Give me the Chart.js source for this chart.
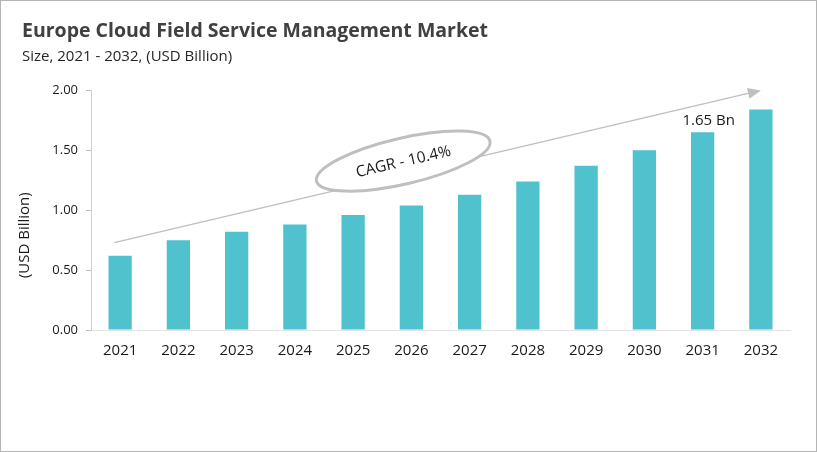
<!DOCTYPE html>
<html>
<head>
<meta charset="utf-8">
<script src="https://cdn.jsdelivr.net/npm/chart.js@4/dist/chart.umd.min.js"></script>
<style>
  html, body { margin: 0; padding: 0; background: #fff; }
  #wrap { position: relative; width: 817px; height: 452px; box-sizing: border-box; border: 1px solid #b4b4b4; }
  canvas { display: block; }
</style>
</head>
<body>
<div id="wrap"><canvas id="c" width="815" height="450"></canvas></div>
<script>
const categories = ["2021","2022","2023","2024","2025","2026","2027","2028","2029","2030","2031","2032"];
const marketSize = [0.62, 0.75, 0.82, 0.88, 0.96, 1.04, 1.13, 1.24, 1.37, 1.50, 1.65, 1.84];
const yTicks = [0, 0.5, 1.0, 1.5, 2.0];
const titleText = "Europe Cloud Field Service Management Market";
const subtitleText = "Size, 2021 - 2032, (USD Billion)";
const yAxisTitle = "(USD Billion)";
const cagrText = "CAGR - 10.4%";
const calloutIndex = 10;
const calloutText = "1.65 Bn";
// arrow anchors in data space: [category index, value]
const arrowStart = [-0.1, 0.73];
const arrowEnd = [11.0, 2.0];
const ellipseCenter = [4.86, 1.41];

const FONT = "'Open Sans', 'Noto Sans', sans-serif";

const decor = {
  id: 'decor',
  afterDatasetsDraw(chart) {
    const ctx = chart.ctx;
    const xs = chart.scales.x, ys = chart.scales.y;
    const px = i => xs.getPixelForValue(i);
    const py = v => ys.getPixelForValue(v);
    // y axis title
    ctx.save();
    ctx.translate(24, (chart.chartArea.top + chart.chartArea.bottom) / 2 + 25);
    ctx.rotate(-Math.PI / 2);
    ctx.fillStyle = '#1a1a1a';
    ctx.font = "15px " + FONT;
    ctx.textAlign = 'center';
    ctx.textBaseline = 'middle';
    ctx.fillText(yAxisTitle, 0, 0);
    ctx.restore();
    // arrow
    const x1 = px(arrowStart[0]), y1 = py(arrowStart[1]);
    const x2 = px(arrowEnd[0]), y2 = py(arrowEnd[1]);
    const ang = Math.atan2(y2 - y1, x2 - x1);
    ctx.save();
    ctx.strokeStyle = '#bfbfbf';
    ctx.fillStyle = '#bfbfbf';
    ctx.lineWidth = 1.3;
    ctx.beginPath();
    ctx.moveTo(x1, y1);
    ctx.lineTo(x2 - 10 * Math.cos(ang), y2 - 10 * Math.sin(ang));
    ctx.stroke();
    ctx.beginPath();
    ctx.translate(x2, y2);
    ctx.rotate(ang);
    ctx.moveTo(0, 0);
    ctx.lineTo(-13, -5.5);
    ctx.lineTo(-13, 5.5);
    ctx.closePath();
    ctx.fill();
    ctx.restore();

    // ellipse
    const cx = px(ellipseCenter[0]), cy = py(ellipseCenter[1]);
    const rot = -13 * Math.PI / 180;
    ctx.save();
    ctx.translate(cx, cy);
    ctx.rotate(rot);
    ctx.beginPath();
    ctx.ellipse(0, 0, 89, 23, 0, 0, Math.PI * 2);
    ctx.fillStyle = '#ffffff';
    ctx.fill();
    ctx.lineWidth = 3;
    ctx.strokeStyle = '#bfbfbf';
    ctx.stroke();
    ctx.fillStyle = '#1a1a1a';
    ctx.font = "15.5px " + FONT;
    ctx.textAlign = 'center';
    ctx.textBaseline = 'middle';
    ctx.fillText(cagrText, 0, 1);
    ctx.restore();

    // callout label
    ctx.save();
    ctx.fillStyle = '#1a1a1a';
    ctx.font = "15px " + FONT;
    ctx.textAlign = 'center';
    ctx.textBaseline = 'bottom';
    ctx.fillText(calloutText, px(calloutIndex) + 6, py(marketSize[calloutIndex]) - 4);
    ctx.restore();
  }
};

new Chart(document.getElementById('c'), {
  type: 'bar',
  data: {
    labels: categories,
    datasets: [{
      data: marketSize,
      backgroundColor: '#50c2cd',
      barPercentage: 0.4,
      categoryPercentage: 1.0
    }]
  },
  options: {
    responsive: false,
    animation: false,
    devicePixelRatio: 1,
    layout: { padding: { left: 21, right: 26, top: 19, bottom: 0 } },
    plugins: {
      legend: { display: false },
      tooltip: { enabled: false },
      title: {
        display: true, text: titleText, align: 'start', color: '#404040',
        font: { family: FONT, size: 19.5, weight: 'bold' }, padding: { top: 0, bottom: 4 }
      },
      subtitle: {
        display: true, text: subtitleText, align: 'start', color: '#262626',
        font: { family: FONT, size: 15 }, padding: { top: 0, bottom: 25 }
      }
    },
    scales: {
      x: {
        grid: { display: false, drawTicks: false },
        border: { display: true, color: '#e3e3e3', width: 1 },
        ticks: { color: '#1a1a1a', font: { family: FONT, size: 15 }, padding: 12, maxRotation: 0 },
        afterFit(s) { s.height = 121; }
      },
      y: {
        min: 0, max: 2,
        afterBuildTicks(s) { s.ticks = yTicks.map(v => ({ value: v })); },
        grid: { display: true, drawOnChartArea: false, drawTicks: true, tickLength: 5, color: '#bfbfbf' },
        border: { display: true, color: '#d0d0d0', width: 1 },
        ticks: { color: '#1a1a1a', font: { family: FONT, size: 13 }, padding: 8,
          callback: v => Number(v).toFixed(2) },
        title: { display: false },
        afterFit(s) { s.width = 69; }
      }
    }
  },
  plugins: [decor]
});
</script>
</body>
</html>
